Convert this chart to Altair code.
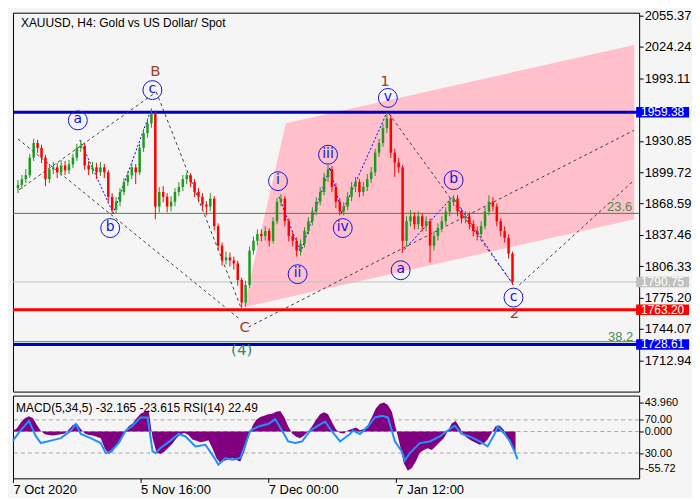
import altair as alt
import pandas as pd

# ------------------------------------------------------------------ data
TITLE = "XAUUSD, H4:  Gold vs US Dollar/ Spot"
IND_TITLE = "MACD(5,34,5) -32.165 -23.615 RSI(14) 22.49"

PRICE_TICKS = [2055.37, 2024.24, 1993.11, 1930.85, 1899.72, 1868.59,
               1837.46, 1806.33, 1775.20, 1744.07, 1712.94]
TIME_POS = [0, 128, 256, 384]
TIME_LABELS = ["7 Oct 2020", "5 Nov 16:00", "7 Dec 00:00", "7 Jan 12:00"]

# candles sampled every 4 H4 bars (bar index)
CANDLE_IDX = list(range(0, 505, 4))
FIRST_OPEN = 1884.0
CLOSE = [1887.1, 1892.9, 1896.8, 1914.3, 1928.9, 1924.0, 1914.3, 1892.9, 1902.6, 1904.6,
         1899.7, 1906.5, 1901.6, 1907.5, 1914.3, 1924.0, 1926.0, 1906.5, 1902.6, 1904.6,
         1899.7, 1904.6, 1899.7, 1875.4, 1862.7, 1870.5, 1880.2, 1890.0, 1896.8, 1904.6,
         1899.7, 1924.0, 1938.6, 1948.3, 1958.1, 1865.7, 1880.2, 1875.4, 1865.7, 1870.5,
         1880.2, 1885.1, 1892.9, 1896.8, 1890.0, 1880.2, 1875.4, 1867.6, 1865.7, 1873.5,
         1846.2, 1826.8, 1812.2, 1815.1, 1812.2, 1809.2, 1792.7, 1770.3, 1787.8, 1821.9,
         1831.6, 1838.4, 1836.5, 1841.3, 1831.6, 1851.1, 1870.5, 1873.5, 1851.1, 1836.5,
         1831.6, 1821.9, 1828.7, 1841.3, 1851.1, 1860.8, 1870.5, 1880.2, 1894.8, 1902.6,
         1885.1, 1870.5, 1860.8, 1865.7, 1875.4, 1885.1, 1890.0, 1880.2, 1885.1, 1892.9,
         1899.7, 1919.2, 1928.9, 1943.5, 1953.2, 1919.2, 1909.4, 1904.6, 1831.6, 1851.1,
         1856.0, 1848.2, 1856.0, 1846.2, 1851.1, 1826.8, 1836.5, 1844.3, 1851.1, 1860.8,
         1870.5, 1873.5, 1860.8, 1854.0, 1856.0, 1848.2, 1841.3, 1838.4, 1846.2, 1860.8,
         1870.5, 1865.7, 1851.1, 1841.3, 1834.5, 1818.9, 1790.8]
HIGH = [1892, 1897, 1903, 1918, 1933, 1932, 1927, 1917, 1908, 1910,
        1909, 1912, 1911, 1912, 1918, 1928, 1932, 1929, 1911, 1910,
        1909, 1910, 1908, 1902, 1879, 1875, 1884, 1894, 1901, 1909,
        1908, 1928, 1943, 1953, 1962.9, 1961, 1885, 1886, 1879, 1876,
        1884, 1890, 1897, 1900, 1899, 1893, 1884, 1879, 1871, 1879,
        1876, 1849, 1830, 1821, 1820, 1816, 1812, 1795, 1792, 1826,
        1836, 1843, 1843, 1846, 1844, 1855, 1874, 1878, 1876, 1854,
        1841, 1835, 1833, 1845, 1855, 1865, 1875, 1885, 1899, 1907,
        1906, 1889, 1874, 1870, 1880, 1890, 1895, 1893, 1890, 1898,
        1905, 1923, 1933, 1948, 1959.1, 1957, 1923, 1914, 1907, 1856,
        1862, 1860, 1861, 1859, 1856, 1854, 1841, 1849, 1856, 1865,
        1874, 1877, 1877, 1864, 1861, 1860, 1852, 1846, 1851, 1865,
        1877, 1875, 1869, 1854, 1846, 1838, 1821]
LOW = [1879, 1883, 1889, 1894, 1911, 1919, 1909, 1886, 1889, 1898,
       1894, 1896, 1897, 1898, 1904, 1911, 1920, 1902, 1897, 1898,
       1893, 1896, 1894, 1870, 1859, 1859, 1866, 1877, 1886, 1893,
       1888, 1897, 1920, 1934, 1944, 1853, 1860, 1870, 1860, 1861,
       1866, 1876, 1881, 1888, 1885, 1875, 1870, 1862, 1857, 1861,
       1842, 1822, 1807, 1808, 1806, 1803, 1787, 1764.6, 1766, 1785,
       1818, 1827, 1831, 1832, 1826, 1829, 1848, 1866, 1846, 1831,
       1826, 1816, 1817, 1825, 1838, 1847, 1857, 1867, 1877, 1890,
       1880, 1864, 1857, 1857, 1862, 1871, 1880, 1875, 1876, 1881,
       1889, 1896, 1915, 1925, 1939, 1914, 1895, 1899, 1820, 1826,
       1846, 1843, 1843, 1841, 1841, 1810, 1822, 1832, 1840, 1847,
       1856, 1866, 1856, 1849, 1849, 1843, 1836, 1832, 1834, 1843,
       1857, 1861, 1846, 1836, 1830, 1814, 1788]

MACD = [1, 5, 14, 20, 23, 20, 10, 1, -4, -5,
        -6, -5, -4, -3, 3, 10, 12, 4, -3, -5,
        -6, -8, -10, -25, -34, -30, -20, -10, 0, 8,
        12, 20, 27, 30, 32, -10, -32, -34, -30, -24,
        -18, -10, -4, -2, -5, -12, -14, -16, -15, -13,
        -25, -40, -47, -44, -42, -40, -43, -45, -30, -10,
        8, 18, 22, 24, 26, 27, 30, 31, 22, 8,
        -3, -8, -10, -6, 0, 8, 18, 26, 29, 26,
        14, 3, -2, -3, 2, 4, 6, 2, 4, 10,
        22, 35, 42, 44, 40, 30, 5, -20, -48, -59,
        -55, -45, -32, -28, -25, -28, -22, -16, -10, 0,
        12, 16, 6, -5, -10, -14, -17, -20, -18, -12,
        -2, 8, 9, 3, -10, -22, -32]

RSI_IDX = [0, 6, 11, 16, 23, 28, 38, 48, 58, 63, 68, 78, 88, 93, 98, 106, 113, 120,
           128, 135, 140, 143, 148, 158, 166, 173, 183, 193, 201, 206, 213, 220, 228,
           233, 238, 246, 256, 263, 270, 276, 283, 290, 298, 306, 313, 320, 328, 338,
           341, 348, 356, 363, 370, 376, 380, 383, 390, 393, 398, 408, 418, 428, 438,
           443, 450, 458, 468, 476, 483, 486, 493, 498, 503, 506]
RSI_VAL = [45, 55, 62, 69, 50, 42, 45, 48, 57, 65, 53, 48, 42, 30, 32, 42, 57, 63,
           73, 73, 32, 30, 36, 45, 53, 50, 38, 40, 26, 16, 24, 22, 24,
           40, 57, 62, 65, 71, 57, 44, 42, 44, 57, 63, 68, 56, 44, 53,
           57, 53, 62, 73, 75, 73, 57, 44, 32, 21, 30, 42, 44, 50, 59,
           63, 53, 50, 44, 38, 53, 62, 53, 45, 32, 22.49]

# channel (pink)
CH_IDX = [230, 273, 628]
CH_TOP = [1765.5, 1948.4, 2026.2]
CH_BOT = [1765.5, 1775.0, 1853.0]

# horizontal levels
LEVEL_PRICE = [1959.38, 1763.20, 1728.61, 1858.9, 1731.4, 1790.75]
LEVEL_COLOR = ["#0000c0", "#ff0000", "#0000c0", "#3a8a3a", "#3a9a3a", "#c0c0c0"]
LEVEL_WIDTH = [3, 3, 3, 1, 1, 1]

# price boxes on the axis
BOX_PRICE = [1959.38, 1790.75, 1763.20, 1728.61]
BOX_COLOR = ["#0000ff", "#c0c0c0", "#ff0000", "#0000ff"]

# black dashed trend lines
DASH_ID = ["L1", "L1", "L2", "L2", "L3", "L3", "L4", "L4", "L5", "L5", "L6", "L6"]
DASH_IDX = [0, 226, 235, 628, 1, 138, 141, 228, 378, 505, 511, 628]
DASH_PRICE = [1932.8, 1753.8, 1746.0, 1941.5, 1882.2, 1977.5, 1979.5, 1763.5,
              1958.1, 1787.8, 1787.8, 1891.9]

# blue dotted wave lines
WAVE_ID = ["W1", "W1", "W1", "W2", "W2", "W2", "W2", "W2", "W3", "W3", "W3"]
WAVE_IDX = [63, 97, 136, 266, 288, 318, 330, 376, 391, 443, 505]
WAVE_PRICE = [1931.8, 1858.9, 1962.9, 1875.4, 1819.9, 1904.6, 1858.9, 1959.1,
              1820.0, 1875.4, 1787.8]

# circled minor wave labels
CIRCLE_TXT = ["a", "b", "c", "i", "ii", "iii", "iv", "v", "a", "b", "c"]
CIRCLE_IDX = [61, 94, 137, 265, 285, 316, 331, 377, 390, 444, 505]
CIRCLE_PRICE = [1951.3, 1844.3, 1981.4, 1890.9, 1798.5, 1917.2, 1844.3,
                1973.6, 1802.4, 1891.9, 1775.2]

# major wave labels
MAJOR_TXT = ["B", "1", "2", "C"]
MAJOR_IDX = [140, 374, 506, 231]
MAJOR_PRICE = [2000.5, 1990.5, 1759.6, 1746.0]
GREEN_TXT = ["(4)"]
GREEN_IDX = [228]
GREEN_PRICE = [1723.6]

FIB_TXT = ["23.6", "38.2"]
FIB_IDX = [626, 627]
FIB_PRICE = [1865.5, 1736.5]

MACD_TICKS = [43.96, 17.6, 0.0, -32.4, -55.72]
MACD_TICK_LABELS = ["43.960", "70.00", "0.000", "30.00", "-55.72"]
MACD_GUIDES = [17.6, 0.0, -32.4]

# ------------------------------------------------------------------ frames
opens = [FIRST_OPEN] + CLOSE[:-1]
candles = pd.DataFrame({"idx": CANDLE_IDX, "open": opens, "close": CLOSE,
                        "high": HIGH, "low": LOW})
candles["col"] = ["#1f9a1f" if c >= o else "#ff0000" for o, c in zip(opens, CLOSE)]

channel = pd.DataFrame({"idx": CH_IDX, "top": CH_TOP, "bot": CH_BOT})
levels = pd.DataFrame({"price": LEVEL_PRICE, "col": LEVEL_COLOR, "w": LEVEL_WIDTH})
boxes = pd.DataFrame({"price": BOX_PRICE, "col": BOX_COLOR,
                      "lab": [f"{p:.2f}" for p in BOX_PRICE]})
boxes["x1"] = 630
boxes["x2"] = 684
boxes["xm"] = 657
boxes["p1"] = boxes["price"] + 5.2
boxes["p2"] = boxes["price"] - 5.2
dashes = pd.DataFrame({"id": DASH_ID, "idx": DASH_IDX, "price": DASH_PRICE})
waves = pd.DataFrame({"id": WAVE_ID, "idx": WAVE_IDX, "price": WAVE_PRICE})
circles = pd.DataFrame({"t": CIRCLE_TXT, "idx": CIRCLE_IDX, "price": CIRCLE_PRICE})
majors = pd.DataFrame({"t": MAJOR_TXT, "idx": MAJOR_IDX, "price": MAJOR_PRICE})
greens = pd.DataFrame({"t": GREEN_TXT, "idx": GREEN_IDX, "price": GREEN_PRICE})
fibs = pd.DataFrame({"t": FIB_TXT, "idx": FIB_IDX, "price": FIB_PRICE})
title_df = pd.DataFrame({"t": [TITLE], "idx": [3], "price": [2048.5]})

macd_df = pd.DataFrame({"idx": CANDLE_IDX, "macd": MACD})
rsi_df = pd.DataFrame({"idx": RSI_IDX, "rsi": RSI_VAL})
guides = pd.DataFrame({"v": MACD_GUIDES})
ind_title = pd.DataFrame({"t": [IND_TITLE], "idx": [3], "v": [35.2]})

# ------------------------------------------------------------------ scales
XS = alt.Scale(domain=[0, 628], nice=False, zero=False)
YS = alt.Scale(domain=[1681.8, 2058.3], nice=False, zero=False)
MS = alt.Scale(domain=[-70.6, 54.3], nice=False, zero=False)

W = 628
H_MAIN = 380
H_IND = 83

xq = alt.X("idx:Q", scale=XS, axis=None)
price_axis = alt.Axis(orient="right", values=PRICE_TICKS, format=".2f", title=None,
                      labelOverlap=False, labelFlush=False)

ch = alt.Chart(channel).mark_area(color="#ffc0cb", opacity=1).encode(
    x=xq, y=alt.Y("top:Q", scale=YS, axis=price_axis), y2="bot:Q")

lv = alt.Chart(levels).mark_rule().encode(
    y=alt.Y("price:Q", scale=YS, axis=price_axis),
    color=alt.Color("col:N", scale=None),
    strokeWidth=alt.StrokeWidth("w:Q", scale=None))

dl = alt.Chart(dashes).mark_line(color="#404040", strokeWidth=1, strokeDash=[3, 3]).encode(
    x=xq, y=alt.Y("price:Q", scale=YS, axis=price_axis), detail="id:N")

wl = alt.Chart(waves).mark_line(color="#0000ff", strokeWidth=1, strokeDash=[2, 2]).encode(
    x=xq, y=alt.Y("price:Q", scale=YS, axis=price_axis), detail="id:N")

wick = alt.Chart(candles).mark_rule(strokeWidth=1).encode(
    x=xq, y=alt.Y("low:Q", scale=YS, axis=price_axis), y2="high:Q",
    color=alt.Color("col:N", scale=None))
body = alt.Chart(candles).mark_bar(size=2.5).encode(
    x=xq, y=alt.Y("open:Q", scale=YS, axis=price_axis), y2="close:Q",
    color=alt.Color("col:N", scale=None))

circ = alt.Chart(circles).mark_point(shape="circle", size=360, filled=False,
                                     color="#1414dc", strokeWidth=1, opacity=1).encode(
    x=xq, y=alt.Y("price:Q", scale=YS, axis=price_axis))
circ_t = alt.Chart(circles).mark_text(font="DejaVu Sans", fontSize=14, color="#1414dc",
                                      baseline="middle", dy=-1).encode(
    x=xq, y=alt.Y("price:Q", scale=YS, axis=price_axis), text="t:N")
maj_t = alt.Chart(majors).mark_text(font="DejaVu Sans", fontSize=15, color="#a0402a",
                                    baseline="middle").encode(
    x=xq, y=alt.Y("price:Q", scale=YS, axis=price_axis), text="t:N")
grn_t = alt.Chart(greens).mark_text(font="DejaVu Sans", fontSize=15, color="#2e8b57",
                                    baseline="middle").encode(
    x=xq, y=alt.Y("price:Q", scale=YS, axis=price_axis), text="t:N")
fib_t = alt.Chart(fibs).mark_text(font="Liberation Sans", fontSize=13, color="#4f8a4f",
                                  align="right", baseline="middle").encode(
    x=xq, y=alt.Y("price:Q", scale=YS, axis=price_axis), text="t:N")
ttl = alt.Chart(title_df).mark_text(font="Liberation Sans", fontSize=12, color="black",
                                    align="left", baseline="middle").encode(
    x=xq, y=alt.Y("price:Q", scale=YS, axis=price_axis), text="t:N")

box_r = alt.Chart(boxes).mark_rect().encode(
    x=alt.X("x1:Q", scale=XS, axis=None), x2="x2:Q",
    y=alt.Y("p1:Q", scale=YS, axis=price_axis), y2="p2:Q",
    color=alt.Color("col:N", scale=None))
box_t = alt.Chart(boxes).mark_text(font="Liberation Sans", fontSize=12, color="white",
                                   baseline="middle").encode(
    x=alt.X("xm:Q", scale=XS, axis=None),
    y=alt.Y("price:Q", scale=YS, axis=price_axis), text="lab:N")

main = alt.layer(ch, lv, dl, wl, wick, body, circ, circ_t, maj_t, grn_t, fib_t, ttl,
                 box_r, box_t).properties(width=W, height=H_MAIN)

# ------------------------------------------------------------------ indicator panel
label_expr = ""
for v, l in zip(MACD_TICKS, MACD_TICK_LABELS):
    label_expr += f"abs(datum.value - ({v})) < 0.5 ? '{l}' : "
label_expr += "''"

time_expr = ""
for p, l in zip(TIME_POS, TIME_LABELS):
    time_expr += f"datum.value == {p} ? '{l}' : "
time_expr += "''"

xb = alt.X("idx:Q", scale=XS,
           axis=alt.Axis(orient="bottom", values=TIME_POS, labelExpr=time_expr,
                         labelAlign="left", title=None, labelPadding=1,
                         labelOverlap=False, labelFlush=False))
macd_axis = alt.Axis(orient="right", values=MACD_TICKS, labelExpr=label_expr, title=None,
                     labelOverlap=False, labelFlush=False, labelFontSize=11)

hist = alt.Chart(macd_df).mark_area(color="#800080", opacity=1).encode(
    x=xb, y=alt.Y("macd:Q", scale=MS, axis=macd_axis), y2=alt.datum(0))
gl = alt.Chart(guides).mark_rule(color="#a8a8a8", strokeDash=[4, 3], strokeWidth=1).encode(
    y=alt.Y("v:Q", scale=MS, axis=macd_axis))
rsi = alt.Chart(rsi_df).transform_calculate(
    rsi_m="1.25 * datum.rsi - 69.9").mark_line(color="#1e90ff", strokeWidth=2).encode(
    x=xb, y=alt.Y("rsi_m:Q", scale=MS, axis=macd_axis))
it = alt.Chart(ind_title).mark_text(font="Liberation Sans", fontSize=12, color="black",
                                    align="left", baseline="middle").encode(
    x=xb, y=alt.Y("v:Q", scale=MS, axis=macd_axis), text="t:N")

ind = alt.layer(gl, hist, rsi, it).properties(width=W, height=H_IND)

chart = alt.vconcat(main, ind, spacing=2).configure_view(
    stroke="black", strokeWidth=1
).configure_axis(
    labelFont="Liberation Sans", labelFontSize=13, labelColor="black",
    tickColor="black", tickSize=4, domain=False, grid=False, labelPadding=1,
    labelOverlap=False
).properties(background="#f5f5f5", padding=0)

chart.save("out.html", embed_options={"renderer": "svg", "actions": False})
